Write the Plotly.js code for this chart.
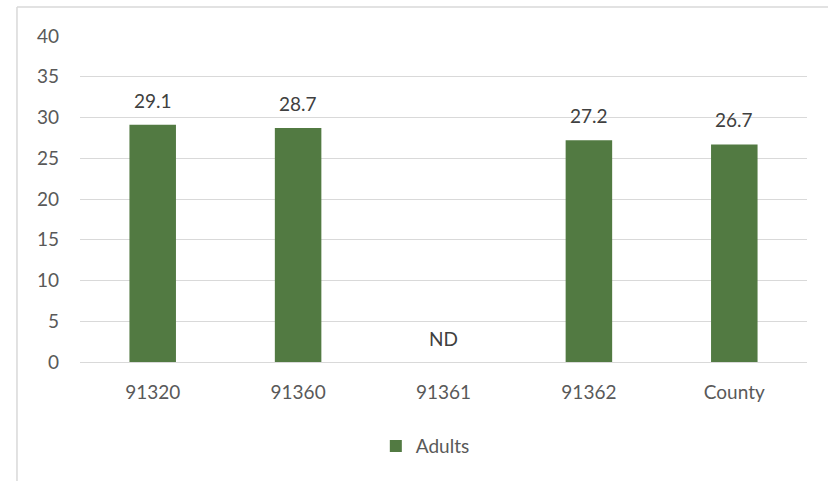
<!DOCTYPE html>
<html>
<head>
<meta charset="utf-8">
<script src="https://cdn.plot.ly/plotly-3.0.1.min.js"></script>
<style>html,body{margin:0;padding:0;background:#fff;}#chart{width:828px;height:481px;}</style>
</head>
<body>
<div id="chart"></div>
<script>
const categories = ["91320", "91360", "91361", "91362", "County"];
const adults = [29.1, 28.7, null, 27.2, 26.7];
const labels = ["29.1", "28.7", "ND", "27.2", "26.7"];
const yTicks = [0, 5, 10, 15, 20, 25, 30, 35, 40];

const font = "Lato, 'Open Sans', sans-serif";
const trace = {
  type: "bar",
  name: "Adults",
  x: categories,
  y: adults,
  marker: {color: "#527a42"},
  hoverinfo: "x+y"
};

const annotations = categories.map((c, i) => ({
  x: i,
  y: adults[i] == null ? 0 : adults[i],
  text: labels[i],
  showarrow: false,
  yanchor: "bottom",
  yshift: adults[i] == null ? 10 : 11,
  font: {family: font, size: 19, color: "#404040"}
}));

const layout = {
  width: 828,
  height: 481,
  margin: {l: 80, r: 21, t: 36, b: 119},
  paper_bgcolor: "#ffffff",
  plot_bgcolor: "#ffffff",
  bargap: 0.68,
  showlegend: true,
  legend: {
    orientation: "h",
    x: 0.475, xanchor: "center",
    y: -0.258, yanchor: "middle",
    font: {family: font, size: 19, color: "#595959"},
    itemwidth: 30
  },
  xaxis: {
    type: "category",
    range: [-0.5, 4.5],
    autorange: false,
    showline: false,
    ticks: "",
    ticklabelstandoff: 17,
    tickfont: {family: font, size: 19, color: "#595959"},
    showgrid: false
  },
  yaxis: {
    range: [0, 40],
    autorange: false,
    tickvals: yTicks,
    ticktext: yTicks.map(String),
    showgrid: true,
    gridcolor: "#d9d9d9",
    gridwidth: 1,
    zeroline: true,
    zerolinecolor: "#d9d9d9",
    zerolinewidth: 1,
    showline: false,
    ticks: "",
    ticklabelstandoff: 20,
    tickfont: {family: font, size: 19, color: "#595959"}
  },
  annotations: annotations,
  shapes: [
    {type: "line", xref: "paper", yref: "paper", x0: -0.0867, x1: -0.0867, y0: 1.089, y1: -0.37, line: {color: "#d9d9d9", width: 1.5}},
    {type: "line", xref: "paper", yref: "paper", x0: -0.0867, x1: 1.04, y0: 1.089, y1: 1.089, line: {color: "#d9d9d9", width: 1.5}}
  ]
};

Plotly.newPlot("chart", [trace], layout, {displayModeBar: false, staticPlot: true});
</script>
</body>
</html>
